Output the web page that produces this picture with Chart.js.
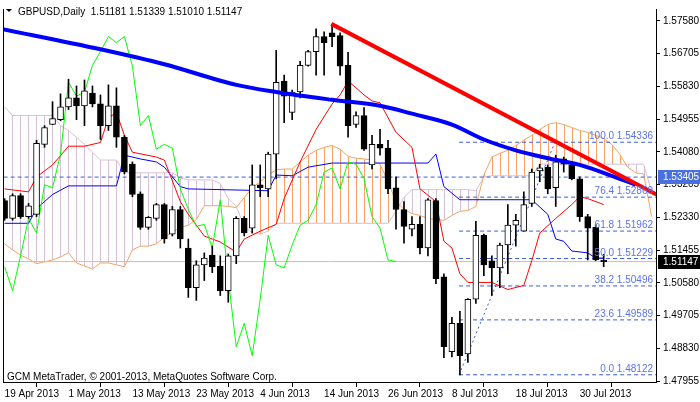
<!DOCTYPE html>
<html><head><meta charset="utf-8">
<script src="https://cdn.jsdelivr.net/npm/chart.js@4"></script>
<style>html,body{margin:0;padding:0;background:#fff}#wrap{width:700px;height:402px}</style>
</head><body><div id="wrap"><canvas id="c" width="700" height="402"></canvas></div>
<script>
const dateTickIdx = [0,8,16,24,32,40,48,56,64,72];
const dateTickLabels = ['19 Apr 2013','1 May 2013','13 May 2013','23 May 2013','4 Jun 2013','14 Jun 2013','26 Jun 2013','8 Jul 2013','18 Jul 2013','30 Jul 2013'];
const priceTicks = [1.47955,1.48830,1.49705,1.50580,1.51455,1.52330,1.53205,1.54080,1.54955,1.55830,1.56705,1.57580];
const opens  = [1.5278,1.5230,1.5291,1.5235,1.5241,1.5428,1.5481,1.5494,1.5528,1.5552,1.5531,1.5565,1.5536,1.5478,1.5531,1.5447,1.5375,1.5296,1.5206,1.5230,1.5267,1.5188,1.5254,1.5151,1.5045,1.5106,1.5132,1.5103,1.5037,1.5130,1.5230,1.5204,1.5320,1.5309,1.5402,1.5597,1.5513,1.5568,1.5639,1.5676,1.5716,1.5726,1.5719,1.5639,1.5481,1.5505,1.5373,1.5428,1.5418,1.5312,1.5254,1.5201,1.5214,1.5151,1.5278,1.5074,1.4874,1.4950,1.4868,1.5014,1.5185,1.5117,1.5098,1.5159,1.5212,1.5196,1.5270,1.5357,1.5367,1.5312,1.5389,1.5373,1.5336,1.5235,1.5206,1.51181];
const highs  = [1.5283,1.5296,1.5296,1.5270,1.5439,1.5478,1.5542,1.5563,1.5602,1.5584,1.5600,1.5584,1.5560,1.5587,1.5579,1.5452,1.5381,1.5301,1.5235,1.5270,1.5270,1.5262,1.5262,1.5175,1.5117,1.5138,1.5156,1.5130,1.5135,1.5235,1.5235,1.5373,1.5373,1.5407,1.5679,1.5613,1.5573,1.5650,1.5679,1.5737,1.5729,1.5748,1.5726,1.5674,1.5515,1.5526,1.5452,1.5468,1.5439,1.5341,1.5275,1.5235,1.5235,1.5283,1.5283,1.5082,1.4966,1.4982,1.5016,1.5222,1.5188,1.5130,1.5164,1.5267,1.5241,1.5301,1.5362,1.5375,1.5373,1.5399,1.5394,1.5381,1.5341,1.5241,1.5214,1.51339];
const lows   = [1.5225,1.5225,1.5230,1.5230,1.5235,1.5420,1.5481,1.5491,1.5521,1.5494,1.5478,1.5528,1.5441,1.5465,1.5420,1.5349,1.5288,1.5201,1.5201,1.5225,1.5164,1.5183,1.5151,1.5019,1.5011,1.5064,1.5085,1.5024,1.5006,1.5109,1.5183,1.5191,1.5288,1.5288,1.5336,1.5486,1.5494,1.5552,1.5637,1.5613,1.5613,1.5689,1.5613,1.5447,1.5473,1.5412,1.5362,1.5399,1.5296,1.5201,1.5164,1.5183,1.5135,1.5130,1.5056,1.4858,1.4860,1.4812,1.4845,1.5003,1.5077,1.5024,1.5045,1.5082,1.5156,1.5196,1.5262,1.5328,1.5296,1.5262,1.5354,1.5333,1.5222,1.5119,1.5117,1.51010];
const closes = [1.5230,1.5291,1.5235,1.5264,1.5431,1.5473,1.5497,1.5528,1.5552,1.5531,1.5571,1.5536,1.5478,1.5531,1.5447,1.5354,1.5294,1.5206,1.5233,1.5267,1.5175,1.5254,1.5175,1.5045,1.5106,1.5124,1.5101,1.5037,1.5130,1.5230,1.5191,1.5320,1.5312,1.5402,1.5594,1.5557,1.5568,1.5639,1.5676,1.5716,1.5700,1.5716,1.5637,1.5478,1.5505,1.5415,1.5428,1.5418,1.5309,1.5254,1.5209,1.5214,1.5151,1.5280,1.5069,1.4887,1.4950,1.4863,1.5014,1.5185,1.5106,1.5098,1.5159,1.5212,1.5225,1.5267,1.5354,1.5365,1.5309,1.5381,1.5375,1.5336,1.5235,1.5204,1.5119,1.51147];
const spanA = [1.5162,1.5146,1.5132,1.5122,1.5109,1.5114,1.5119,1.5127,1.5138,1.5111,1.5103,1.5095,1.5111,1.5111,1.5106,1.5101,1.5146,1.5156,1.5156,1.5162,1.5180,1.5193,1.5206,1.5212,1.5227,1.5264,1.5264,1.5264,1.5262,1.5259,1.5286,1.5312,1.5328,1.5346,1.5360,1.5362,1.5362,1.5381,1.5399,1.5412,1.5420,1.5425,1.5415,1.5396,1.5391,1.5389,1.5386,1.5375,1.5328,1.5275,1.5254,1.5243,1.5238,1.5230,1.5227,1.5225,1.5238,1.5249,1.5251,1.5262,1.5346,1.5394,1.5404,1.5412,1.5425,1.5439,1.5452,1.5468,1.5481,1.5486,1.5481,1.5473,1.5465,1.5460,1.5452,1.5444,1.5428,1.5402,1.5367,1.5352,1.5349,1.5235];
const spanB = [1.5528,1.5505,1.5505,1.5505,1.5505,1.5505,1.5505,1.5478,1.5465,1.5447,1.5428,1.5407,1.5386,1.5386,1.5386,1.5352,1.5352,1.5352,1.5352,1.5352,1.5352,1.5352,1.5338,1.5333,1.5333,1.5333,1.5333,1.5323,1.5283,1.5262,1.5209,1.5191,1.5188,1.5196,1.5217,1.5217,1.5217,1.5217,1.5217,1.5217,1.5217,1.5217,1.5217,1.5217,1.5217,1.5217,1.5217,1.5217,1.5217,1.5249,1.5286,1.5307,1.5307,1.5307,1.5307,1.5307,1.5307,1.5307,1.5307,1.5304,1.5341,1.5344,1.5344,1.5344,1.5344,1.5344,1.5344,1.5375,1.5375,1.5375,1.5375,1.5375,1.5375,1.5375,1.5375,1.5375,1.5375,1.5375,1.5375,1.5375,1.5375,1.5301];
const tenkanIdx = [0,3,4,6,8,10,12,13,14,15,16,19,20,22,23,25,27,29,30,32,34,35,37,39,41,42,43,44,45,46,47,49,51,52,54,55,56,57,58,61,63,65,66,67,69,71,72,73,75];
const tenkanVal = [1.5309,1.5301,1.5341,1.5373,1.5423,1.5423,1.5433,1.5499,1.5513,1.5452,1.5407,1.5394,1.5386,1.5275,1.5241,1.5183,1.5167,1.5140,1.5175,1.5196,1.5214,1.5283,1.5381,1.5468,1.5536,1.5560,1.5597,1.5579,1.5560,1.5544,1.5539,1.5460,1.5420,1.5309,1.5275,1.5169,1.5151,1.5082,1.5059,1.5059,1.5040,1.5051,1.5117,1.5191,1.5230,1.5267,1.5288,1.5283,1.5267];
const kijunIdx = [0,3,4,6,8,14,15,17,19,20,22,23,33,34,36,38,41,53,54,55,57,66,68,69,70,71,73,74,75];
const kijunVal = [1.5217,1.5217,1.5256,1.5294,1.5317,1.5317,1.5399,1.5389,1.5381,1.5367,1.5315,1.5309,1.5304,1.5346,1.5344,1.5367,1.5378,1.5378,1.5402,1.5315,1.5280,1.5280,1.5241,1.5175,1.5169,1.5143,1.5138,1.5124,1.5124];
const maIdx = [-0.5,12,20,29,34,41,47,51,56,60,64,68,72,76,79];
const maVal = [1.5737,1.5682,1.5642,1.5587,1.5568,1.5547,1.5531,1.5510,1.5481,1.5441,1.5412,1.5391,1.5373,1.5344,1.5320];
const chikouShift = 26;
const trendIdx = [40.9, 81.6];
const trendVal = [1.5750, 1.5294];
const fibStartIdx = 56.9, fibHighIdx = 68.9;
const fibPcts = ['100.0','76.4','61.8','50.0','38.2','23.6','0.0'];
const fibLevels = [1.54336,1.52869,1.51962,1.51229,1.50496,1.49589,1.48122];
const alertLevel = 1.53405;
const bidLevel = 1.51147;
const titleText = 'GBPUSD,Daily  1.51181 1.51339 1.51010 1.51147';
const copyText = 'GCM MetaTrader, © 2001-2013, MetaQuotes Software Corp.';

const FONT = '"Liberation Sans", Arial, sans-serif';
function pat(color){const c=document.createElement('canvas');c.width=8;c.height=1;const g=c.getContext('2d');g.fillStyle=color;g.fillRect(4,0,1,1);return g.createPattern(c,'repeat');}
const cv=document.getElementById('c');
const patO=pat('#f4a460'), patL=pat('#d8bfd8');
const XMAX=81.55;
const datasets=[];
// cloud
datasets.push({type:'line',label:'spanA',data:spanA.map((v,i)=>({x:i,y:v})),borderColor:'#f4a460',borderWidth:1,pointRadius:0,fill:{target:1,above:patO,below:patL},order:20});
datasets.push({type:'line',label:'spanB',data:spanB.map((v,i)=>({x:i,y:v})),borderColor:'#d8bfd8',borderWidth:1,pointRadius:0,fill:false,order:20});
// horizontal lines
datasets.push({type:'line',data:[{x:-1,y:bidLevel},{x:XMAX+1,y:bidLevel}],borderColor:'#c0c0c0',borderWidth:1,pointRadius:0,order:19});
datasets.push({type:'line',data:[{x:-1,y:alertLevel},{x:XMAX+1,y:alertLevel}],borderColor:'#3a5fd8',borderWidth:1,borderDash:[4,3],pointRadius:0,order:19});
fibLevels.forEach(v=>datasets.push({type:'line',data:[{x:fibStartIdx,y:v},{x:XMAX+1,y:v}],borderColor:'#3a5fd8',borderWidth:1,borderDash:[4,3],pointRadius:0,order:19}));
datasets.push({type:'line',data:[{x:fibStartIdx,y:fibLevels[6]},{x:fibHighIdx,y:fibLevels[0]}],borderColor:'#3a5fd8',borderWidth:1,borderDash:[2,3],pointRadius:0,order:19});
// ichimoku lines
datasets.push({type:'line',data:closes.slice(chikouShift).map((v,i)=>({x:i,y:v})),borderColor:'#00ff00',borderWidth:1,pointRadius:0,order:15});
datasets.push({type:'line',data:tenkanIdx.map((x,i)=>({x,y:tenkanVal[i]})),borderColor:'#ff0000',borderWidth:1,pointRadius:0,order:15});
datasets.push({type:'line',data:kijunIdx.map((x,i)=>({x,y:kijunVal[i]})),borderColor:'#0000ff',borderWidth:1,pointRadius:0,order:15});
// candles
datasets.push({type:'bar',data:closes.map((c,i)=>({x:i,y:[lows[i],highs[i]]})),backgroundColor:'#000',barThickness:1,grouped:false,order:10});
datasets.push({type:'bar',data:closes.map((c,i)=>({x:i,y:[opens[i],c===opens[i]?c+0.00003:c]})),backgroundColor:closes.map((c,i)=>c>=opens[i]?'#fff':'#000'),borderColor:'#000',borderWidth:1,borderSkipped:false,barThickness:6,grouped:false,order:9});
// MA and trendline
datasets.push({type:'line',data:maIdx.map((x,i)=>({x,y:maVal[i]})),borderColor:'#0000ff',borderWidth:4,pointRadius:0,cubicInterpolationMode:'monotone',order:5});
datasets.push({type:'line',data:trendIdx.map((x,i)=>({x,y:trendVal[i]})),borderColor:'#ff0000',borderWidth:4,pointRadius:0,order:4});

const overlay={id:'overlay',afterDraw(ch){
  const g=ch.ctx,a=ch.chartArea,xs=ch.scales.x,ys=ch.scales.y;
  g.save();
  g.strokeStyle='#000';g.lineWidth=1;g.beginPath();g.moveTo(a.left+0.5,a.top);g.lineTo(a.left+0.5,a.bottom);g.stroke();
  g.font='10px '+FONT;g.textBaseline='alphabetic';
  // fib labels
  g.fillStyle='#5b74e8';g.textAlign='right';
  fibLevels.forEach((v,i)=>g.fillText(fibPcts[i]+' '+v.toFixed(5),a.right-3,ys.getPixelForValue(v)-3));
  // title
  g.fillStyle='#000';g.textAlign='left';
  g.beginPath();g.moveTo(6,9);g.lineTo(12,9);g.lineTo(9,12);g.closePath();g.fill();
  g.fillText(titleText,18,15);
  g.fillText(copyText,7,380);
  // axis label boxes
  [[alertLevel,'#4a70e0','#fff'],[bidLevel,'#000','#fff']].forEach(([v,bg,fg])=>{
    const y=Math.round(ys.getPixelForValue(v));
    g.fillStyle=bg;g.fillRect(a.right+2,y-7,44,14);
    g.fillStyle=fg;g.textAlign='left';g.textBaseline='middle';g.fillText(v.toFixed(5),a.right+7,y);
  });
  g.restore();
}};

new Chart(cv,{type:'bar',data:{datasets},plugins:[overlay],options:{
  responsive:false,devicePixelRatio:1,animation:false,
  layout:{padding:{left:3,top:5,right:0,bottom:0}},
  plugins:{legend:{display:false},tooltip:{enabled:false}},
  scales:{
    x:{type:'linear',min:-0.2,max:XMAX,offset:false,
      afterBuildTicks:s=>{s.ticks=dateTickIdx.map(v=>({value:v}));},
      afterFit:s=>{s.height=20;},
      ticks:{callback:v=>dateTickLabels[dateTickIdx.indexOf(v)],align:'start',maxRotation:0,autoSkip:false,padding:1,color:'#000',font:{family:FONT,size:10}},
      grid:{drawOnChartArea:false,tickLength:5,color:'#000'},border:{display:true,color:'#000'}},
    y:{position:'right',min:1.47929,max:1.57897,
      afterBuildTicks:s=>{s.ticks=priceTicks.map(v=>({value:v}));},
      afterFit:s=>{s.width=44;},
      ticks:{callback:v=>v.toFixed(5),padding:3,color:'#000',font:{family:FONT,size:10}},
      grid:{drawOnChartArea:false,tickLength:4,color:'#000'},border:{display:true,color:'#000'}}
  }}});
</script></body></html>
